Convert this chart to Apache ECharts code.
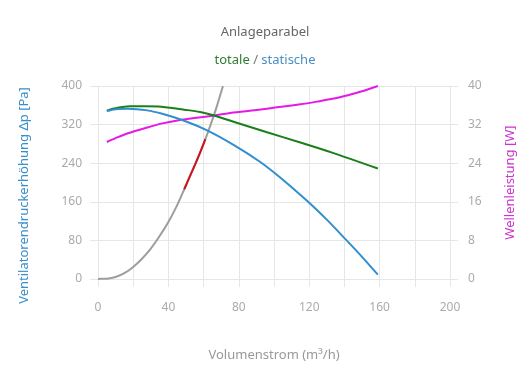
<!DOCTYPE html>
<html>
<head>
<meta charset="utf-8">
<script src="https://cdn.jsdelivr.net/npm/echarts@6/dist/echarts.min.js"></script>
<style>
html,body{margin:0;padding:0;background:#fff;}
#c{width:530px;height:390px;}
</style>
</head>
<body>
<div id="c"></div>
<script>
// Volume flow (m³/h) and values
const totalQ = [5, 10, 18, 27, 36, 51, 58, 65, 77, 96, 115, 133, 159];
const totalP = [349, 354, 358, 358, 357, 350, 346, 340, 326, 304, 283, 262, 229];

const staticQ = [5, 10, 17, 22, 27, 36, 49, 62, 77, 92, 103, 111, 120, 130, 141, 150, 159];
const staticP = [348, 352, 353, 352, 350, 343, 328, 308, 278, 243, 212, 187, 158, 123, 81, 46, 9];

const powerQ = [5, 10, 17, 27, 36, 46, 56, 66, 77, 96, 115, 125, 134, 142, 150, 159];
const powerW = [28.4, 29.2, 30.2, 31.3, 32.2, 32.9, 33.4, 33.9, 34.5, 35.3, 36.2, 36.8, 37.4, 38.1, 38.9, 40];

const systemQ = [0, 3, 6, 10, 15, 20, 25, 30, 35, 40, 45, 49, 52, 55, 58, 61, 64, 67, 71];
const systemP = [0, 0.5, 1, 4, 12, 25, 42, 63, 89, 118, 153, 186, 211, 236, 262, 290, 320, 352, 400];

const operatingQ = [49, 52, 55, 58, 61];
const operatingP = [186, 211, 236, 262, 290];

const xTicks = [0, 40, 80, 120, 160, 200];
const leftTicks = [0, 80, 160, 240, 320, 400];
const rightTicks = [0, 8, 16, 24, 32, 40];

const pairs = (xs, ys) => xs.map((x, i) => [x, ys[i]]);

const FONT = 'Noto Sans';
const gridColor = '#e6e6e6';
const labelColor = '#aaaaaa';

const chart = echarts.init(document.getElementById('c'), null, {renderer: 'canvas'});
const lineBase = {type: 'line', smooth: 0.3, showSymbol: false};
chart.setOption({
  animation: false,
  backgroundColor: '#ffffff',
  textStyle: {fontFamily: FONT},
  title: {
    text: 'Anlageparabel',
    subtext: '{t|totale} {s|/} {b|statische}',
    left: 'center',
    top: 21,
    itemGap: 15,
    textStyle: {fontFamily: FONT, fontSize: 13, fontWeight: 'normal', color: '#666666'},
    subtextStyle: {
      fontFamily: FONT, fontSize: 13, color: '#666666',
      rich: {
        t: {fontFamily: FONT, fontSize: 13, color: '#2e7d32'},
        s: {fontFamily: FONT, fontSize: 13, color: '#777777'},
        b: {fontFamily: FONT, fontSize: 13, color: '#4a8fc4'}
      }
    }
  },
  grid: {left: 98, right: 80, top: 86, bottom: 111, containLabel: false},
  xAxis: {
    type: 'value',
    min: xTicks[0], max: xTicks[xTicks.length - 1], interval: 40,
    name: 'Volumenstrom (m³/h)',
    nameLocation: 'middle',
    nameGap: 70,
    nameTextStyle: {fontFamily: FONT, fontSize: 13, color: '#999999'},
    axisLine: {show: false},
    axisTick: {show: true, length: 8, lineStyle: {color: gridColor}},
    minorTick: {show: true, splitNumber: 2, length: 8, lineStyle: {color: gridColor}},
    splitLine: {show: true, lineStyle: {color: gridColor}},
    minorSplitLine: {show: true, lineStyle: {color: gridColor}},
    axisLabel: {color: labelColor, fontSize: 12, margin: 23, fontFamily: FONT}
  },
  yAxis: [{
    type: 'value',
    min: leftTicks[0], max: leftTicks[leftTicks.length - 1], interval: 80,
    name: 'Ventilatorendruckerhöhung Δp [Pa]',
    nameLocation: 'middle',
    nameGap: 67,
    nameTextStyle: {fontFamily: FONT, fontSize: 13, color: '#3a8ecb', padding: [0, 26, 0, 0]},
    axisLine: {show: false},
    axisTick: {show: true, length: 8, lineStyle: {color: gridColor}},
    splitLine: {show: true, lineStyle: {color: gridColor}},
    axisLabel: {color: labelColor, fontSize: 12, margin: 16, fontFamily: FONT}
  }, {
    type: 'value',
    min: rightTicks[0], max: rightTicks[rightTicks.length - 1], interval: 8,
    name: 'Wellenleistung [W]',
    nameLocation: 'middle',
    nameGap: 54,
    nameTextStyle: {fontFamily: FONT, fontSize: 13, color: '#cc33cc'},
    axisLine: {show: false},
    axisTick: {show: true, length: 8, lineStyle: {color: gridColor}},
    splitLine: {show: false},
    axisLabel: {color: labelColor, fontSize: 12, margin: 18, fontFamily: FONT}
  }],
  series: [
    Object.assign({}, lineBase, {
      name: 'Anlageparabel', data: pairs(systemQ, systemP),
      lineStyle: {color: '#9e9e9e', width: 2}, z: 2
    }),
    Object.assign({}, lineBase, {
      name: 'Betriebsbereich', data: pairs(operatingQ, operatingP),
      lineStyle: {color: '#d0121b', width: 2}, z: 3
    }),
    Object.assign({}, lineBase, {
      name: 'Leistung', yAxisIndex: 1, data: pairs(powerQ, powerW),
      lineStyle: {color: '#e619e6', width: 2}, z: 4
    }),
    Object.assign({}, lineBase, {
      name: 'totale', data: pairs(totalQ, totalP),
      lineStyle: {color: '#1a7f1a', width: 2}, z: 5
    }),
    Object.assign({}, lineBase, {
      name: 'statische', data: pairs(staticQ, staticP),
      lineStyle: {color: '#2f8fd0', width: 2}, z: 6
    })
  ]
});
</script>
</body>
</html>
